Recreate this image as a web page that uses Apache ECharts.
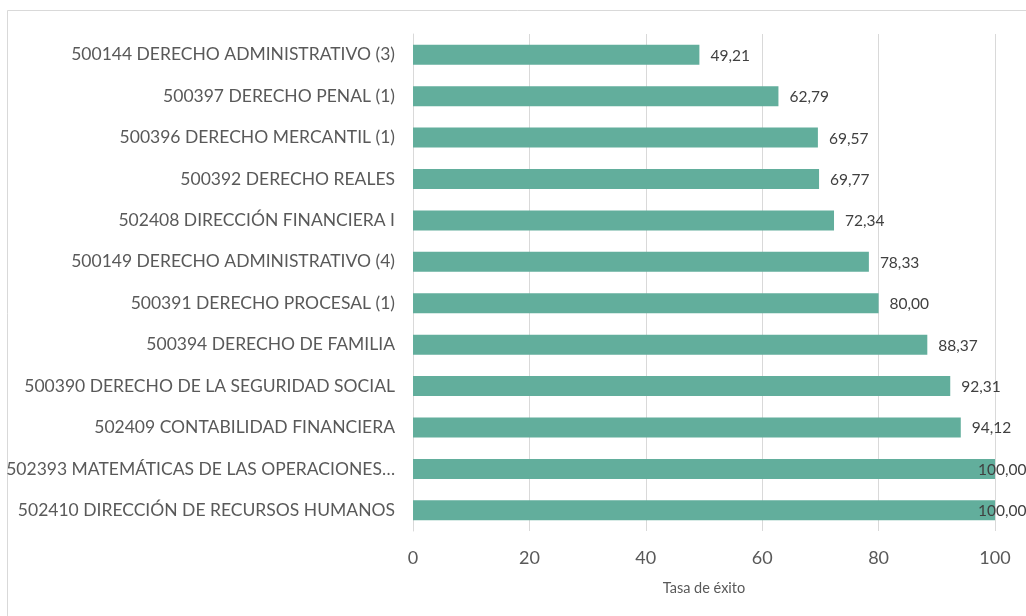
<!DOCTYPE html>
<html>
<head>
<meta charset="utf-8">
<script src="https://cdn.jsdelivr.net/npm/echarts@6/dist/echarts.min.js"></script>
<style>
  html, body { margin: 0; padding: 0; background: #fff; }
  #chart { width: 1026px; height: 616px; }
</style>
</head>
<body>
<div id="chart"></div>
<script>
// Subjects and their success rates (%)
const subjects = [
  '500144 DERECHO ADMINISTRATIVO (3)',
  '500397 DERECHO PENAL (1)',
  '500396 DERECHO MERCANTIL (1)',
  '500392 DERECHO REALES',
  '502408 DIRECCIÓN FINANCIERA I',
  '500149 DERECHO ADMINISTRATIVO (4)',
  '500391 DERECHO PROCESAL (1)',
  '500394 DERECHO DE FAMILIA',
  '500390 DERECHO DE LA SEGURIDAD SOCIAL',
  '502409 CONTABILIDAD FINANCIERA',
  '502393 MATEMÁTICAS DE LAS OPERACIONES…',
  '502410 DIRECCIÓN DE RECURSOS HUMANOS'
];
const successRate = [49.21, 62.79, 69.57, 69.77, 72.34, 78.33, 80.00, 88.37, 92.31, 94.12, 100.00, 100.00];
const axisTitle = 'Tasa de éxito';

const FONT = 'Lato, "Open Sans", sans-serif';
const fmt = v => v.toFixed(2).replace('.', ',');

// Labels for bars that reach the axis maximum sit over the bar end
const barData = successRate.map(v => v >= 100
  ? { value: v, label: { offset: [-28, 1] } }
  : v);

const chart = echarts.init(document.getElementById('chart'), null, { renderer: 'canvas' });
chart.setOption({
  animation: false,
  backgroundColor: '#ffffff',
  graphic: [{
    type: 'rect',
    shape: { x: 7.5, y: 10.5, width: 1030, height: 620 },
    style: { fill: 'none', stroke: '#d9d9d9', lineWidth: 1 },
    silent: true
  }],
  grid: { left: 413, right: 31, top: 34, bottom: 85, containLabel: false },
  xAxis: {
    type: 'value',
    min: 0, max: 100, interval: 20,
    name: axisTitle,
    nameLocation: 'middle',
    nameGap: 50,
    nameTextStyle: { fontFamily: FONT, fontSize: 14.5, color: '#595959' },
    axisLine: { show: false },
    axisTick: { show: false },
    axisLabel: { fontFamily: FONT, fontSize: 18, color: '#595959', margin: 18 },
    splitLine: { lineStyle: { color: '#d9d9d9', width: 1 } }
  },
  yAxis: {
    type: 'category',
    data: subjects,
    inverse: true,
    axisLine: { show: true, lineStyle: { color: '#d9d9d9' } },
    axisTick: { show: false },
    axisLabel: { fontFamily: FONT, fontSize: 17.5, color: '#595959', margin: 18 }
  },
  series: [{
    type: 'bar',
    data: barData,
    barWidth: 20,
    itemStyle: { color: '#62ae9c' },
    label: {
      show: true,
      position: 'right',
      distance: 11,
      offset: [0, 1],
      fontFamily: FONT,
      fontSize: 15.5,
      color: '#404040',
      formatter: p => fmt(p.value)
    }
  }]
});
</script>
</body>
</html>
